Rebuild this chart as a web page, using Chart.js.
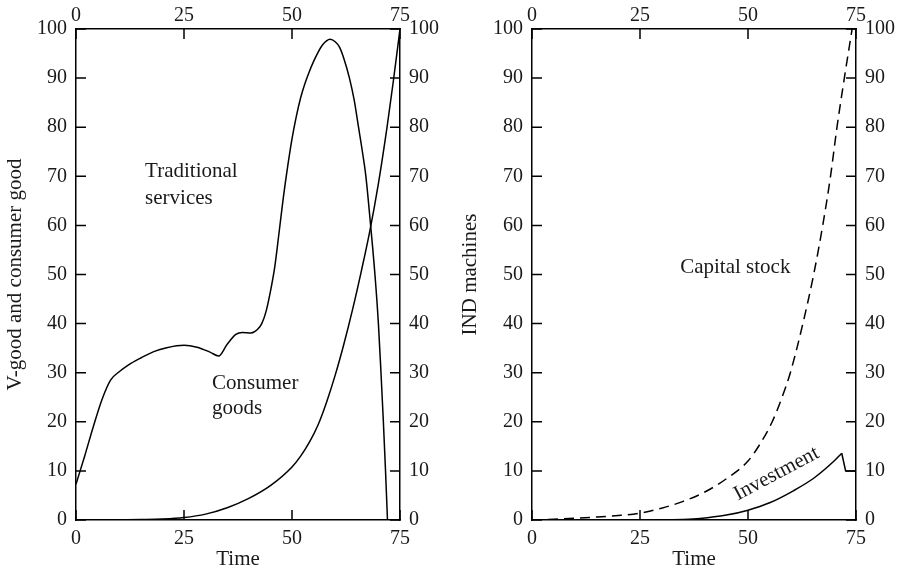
<!DOCTYPE html>
<html lang="en">
<head>
  <meta charset="UTF-8" />
  <title>V-good, consumer goods and IND machines over time</title>
  <script src="https://cdn.jsdelivr.net/npm/chart.js"></script>
  <style>
    body { margin: 0; background: #fff; }
    .wrap { position: relative; width: 909px; height: 572px; }
    canvas { position: absolute; top: 0; }
    #left { left: 0; }
    #right { left: 455px; }
  </style>
</head>
<body>
  <div class="wrap">
    <canvas id="left" width="455" height="572"></canvas>
    <canvas id="right" width="454" height="572"></canvas>
  </div>

  <script>
    // axis ticks
    const timeTicks = [0, 25, 50, 75];
    const valueTicks = [0, 10, 20, 30, 40, 50, 60, 70, 80, 90, 100];

    // left panel: traditional services (time, value)
    const servicesT = [0, 2, 4, 6, 8, 10, 12, 15, 18, 21, 25, 28, 31, 33, 35, 37, 38.5, 40.5, 42, 43, 44, 45, 46, 47, 48, 49, 50, 51, 52, 53, 54, 55, 56, 57, 58, 58.8, 60, 61, 62, 63.3, 64.4, 65.4, 66.3, 67.1, 68.2, 69.2, 70, 70.6, 71.15, 71.65, 72.1];
    const servicesV = [7.3, 13, 19, 24.5, 28.5, 30.2, 31.5, 33, 34.3, 35.1, 35.6, 35.2, 34.2, 33.4, 35.8, 37.8, 38.2, 38.1, 38.8, 40, 42.5, 46.5, 51.5, 58.5, 65.7, 72, 77.6, 82.2, 86, 88.9, 91.3, 93.4, 95.2, 96.7, 97.6, 97.9, 97.4, 96.3, 94, 90, 85.5, 80, 75, 70, 60, 50, 40, 30, 20, 10, 0];

    // left panel: consumer goods
    const consumerT = [5, 10, 15, 20, 25, 30, 35, 40, 45, 50, 52, 54, 56, 58, 60, 62, 64, 66, 68, 70, 72, 73.4, 75];
    const consumerV = [0, 0.05, 0.1, 0.2, 0.5, 1.2, 2.5, 4.4, 7, 10.8, 13, 15.8, 19.3, 24, 29.5, 35.8, 42.8, 50.5, 58.8, 68.5, 80, 89, 100];

    // right panel: capital stock (dashed)
    const capitalT = [0, 5, 10, 15, 20, 25, 30, 35, 40, 45, 50, 52.8, 55.6, 57.8, 59.8, 62.7, 65.2, 67.3, 69.1, 70.6, 72.3, 74.1];
    const capitalV = [0, 0.15, 0.35, 0.6, 0.9, 1.4, 2.4, 3.8, 5.7, 8.4, 12, 15.5, 20, 24.8, 30, 40, 50, 60, 70, 80, 90, 100];

    // right panel: investment (rises to a peak, drops, then stays flat)
    const investT = [25, 30, 35, 38.9, 45, 50, 55, 60.6, 65.2, 69.8, 71.7, 72.6, 75];
    const investV = [0, 0, 0.1, 0.3, 1, 2, 3.5, 6, 8.5, 11.9, 13.6, 10, 10];
    const investPeak = 10; // index of the peak

    // text labels inside the plots: [text, time, value, angle]
    const leftLabels = [
      ['Traditional', 16, 70.9, 0],
      ['services', 16, 65.4, 0],
      ['Consumer', 31.5, 27.9, 0],
      ['goods', 31.5, 22.8, 0]
    ];
    const rightLabels = [
      ['Capital stock', 34.3, 51.5, 0],
      ['Investment', 56.6, 9.4, -28]
    ];

    const SERIF = "'Liberation Serif', 'DejaVu Serif', serif";
    Chart.defaults.font.family = SERIF;
    Chart.defaults.font.size = 20;
    Chart.defaults.color = '#1a1a1a';

    const toPoints = (xs, ys) => xs.map((x, i) => ({ x: x, y: ys[i] }));

    const lineSet = (xs, ys, dash, straight) => ({
      data: toPoints(xs, ys),
      showLine: true,
      borderColor: '#000',
      borderWidth: 1.5,
      borderDash: dash || [],
      pointRadius: 0,
      fill: false,
      cubicInterpolationMode: straight ? 'default' : 'monotone',
      tension: straight ? 0 : 0.4
    });

    // ticks pointing into the plot box
    const inwardTicks = {
      id: 'inwardTicks',
      afterDraw(chart) {
        const ctx = chart.ctx;
        const a = chart.chartArea;
        const len = 10;
        ctx.save();
        ctx.strokeStyle = '#000';
        ctx.lineWidth = 1.5;
        ctx.beginPath();
        timeTicks.forEach(v => {
          const px = chart.scales.x.getPixelForValue(v);
          ctx.moveTo(px, a.bottom); ctx.lineTo(px, a.bottom - len);
          ctx.moveTo(px, a.top); ctx.lineTo(px, a.top + len);
        });
        valueTicks.forEach(v => {
          const py = chart.scales.y.getPixelForValue(v);
          ctx.moveTo(a.left, py); ctx.lineTo(a.left + len, py);
          ctx.moveTo(a.right, py); ctx.lineTo(a.right - len, py);
        });
        ctx.stroke();
        ctx.restore();
      }
    };

    const textLabels = {
      id: 'textLabels',
      afterDatasetsDraw(chart, args, opts) {
        const ctx = chart.ctx;
        ctx.save();
        ctx.fillStyle = '#1a1a1a';
        ctx.font = '21px ' + SERIF;
        ctx.textBaseline = 'middle';
        opts.items.forEach(([txt, t, v, ang]) => {
          const px = chart.scales.x.getPixelForValue(t);
          const py = chart.scales.y.getPixelForValue(v);
          ctx.save();
          ctx.translate(px, py);
          ctx.rotate(ang * Math.PI / 180);
          ctx.textAlign = ang ? 'center' : 'left';
          ctx.fillText(txt, 0, 0);
          ctx.restore();
        });
        ctx.restore();
      }
    };

    const fix = (prop, size) => scale => { scale[prop] = size; };

    const makeScales = (yTitle, leftW, rightW) => {
      const border = { display: true, color: '#000', width: 1.5 };
      const grid = { drawOnChartArea: false, drawTicks: false };
      const yTicks = { stepSize: 10, padding: 9 };
      const title = (text, pad) => ({ display: true, text: text, font: { size: 21 }, padding: pad });
      return {
        x: {
          type: 'linear', position: 'bottom', min: 0, max: 75,
          ticks: { stepSize: 25, padding: 7, maxRotation: 0 },
          grid: grid, border: border,
          title: title('Time', { top: 0, bottom: 0 }),
          afterFit: fix('height', 52)
        },
        x2: {
          type: 'linear', position: 'top', min: 0, max: 75,
          ticks: { stepSize: 25, padding: 1, maxRotation: 0 },
          grid: grid, border: border,
          afterFit: fix('height', 29)
        },
        y: {
          type: 'linear', position: 'left', min: 0, max: 100,
          ticks: yTicks, grid: grid, border: border,
          title: title(yTitle, { top: 3, bottom: 0 }),
          afterFit: fix('width', leftW)
        },
        y2: {
          type: 'linear', position: 'right', min: 0, max: 100,
          ticks: yTicks, grid: grid, border: border,
          afterFit: fix('width', rightW)
        }
      };
    };

    const makeChart = (id, datasets, yTitle, leftW, rightW, labels) => new Chart(document.getElementById(id), {
      type: 'scatter',
      data: { datasets: datasets },
      options: {
        responsive: false,
        animation: false,
        layout: { padding: 0 },
        plugins: {
          legend: { display: false },
          tooltip: { enabled: false },
          textLabels: { items: labels }
        },
        scales: makeScales(yTitle, leftW, rightW)
      },
      plugins: [inwardTicks, textLabels]
    });

    makeChart('left', [
      lineSet(servicesT, servicesV),
      lineSet(consumerT, consumerV)
    ], 'V-good and consumer good', 76, 55, leftLabels);

    makeChart('right', [
      lineSet(capitalT, capitalV, [10, 6]),
      lineSet(investT.slice(0, investPeak + 1), investV.slice(0, investPeak + 1)),
      lineSet(investT.slice(investPeak), investV.slice(investPeak), null, true)
    ], 'IND machines', 77, 53, rightLabels);
  </script>
</body>
</html>
